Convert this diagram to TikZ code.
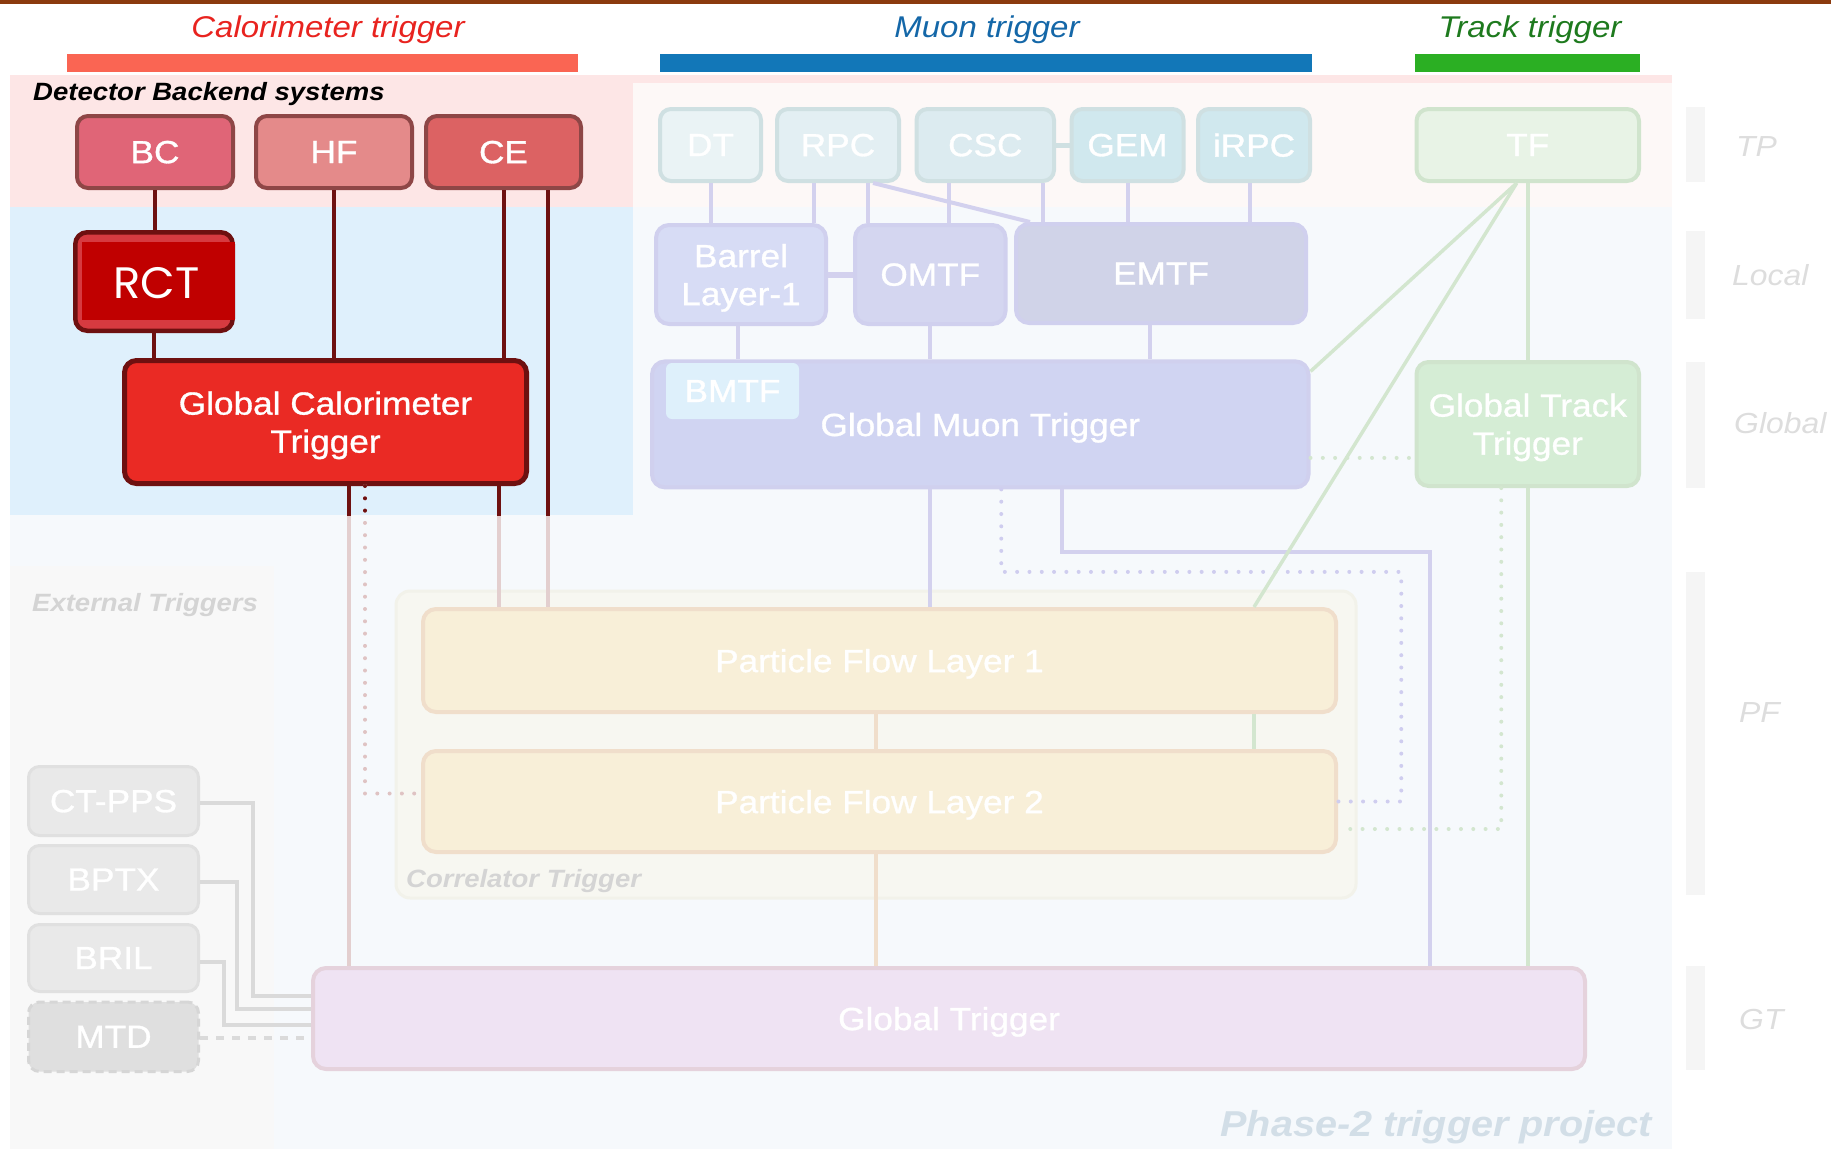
\documentclass[tikz,border=0pt]{standalone}
\usepackage{fontspec}
\setmainfont{Liberation Sans}[FakeStretch=1.1]
\newfontfamily\boxfont{Liberation Sans}[FakeStretch=1.1, FakeBold=1]
\newfontfamily\rctfont{Poppins}[FakeStretch=1.02]
\usetikzlibrary{calc}

% palette
\definecolor{topbrown}{HTML}{8B3A0E}
\definecolor{calotitle}{HTML}{E8231F}
\definecolor{calobar}{HTML}{FA6553}
\definecolor{muontitle}{HTML}{1467A8}
\definecolor{muonbar}{HTML}{1277B8}
\definecolor{tracktitle}{HTML}{1E7A1E}
\definecolor{trackbar}{HTML}{2BAF23}
\definecolor{bepink}{HTML}{FDE6E6}
\definecolor{bepinkfade}{HTML}{FDF8F7}
\definecolor{calblue}{HTML}{DFF0FC}
\definecolor{calbluefade}{HTML}{F6F9FC}
\definecolor{extpanel}{HTML}{F8F8F8}
\definecolor{bcfill}{HTML}{E06577}
\definecolor{hffill}{HTML}{E48A8A}
\definecolor{cefill}{HTML}{DC6263}
\definecolor{tpborder}{HTML}{8E4646}
\definecolor{caloline}{HTML}{6E1010}
\definecolor{calolinefade}{HTML}{E3CFCF}
\definecolor{calodotfade}{HTML}{DFC3C3}
\definecolor{rctouter}{HTML}{D63A40}
\definecolor{rctinner}{HTML}{C00000}
\definecolor{gctfill}{HTML}{EA2A24}
\definecolor{muline}{HTML}{D3D1EE}
\definecolor{mudot}{HTML}{CFCDEF}
\definecolor{dtfill}{HTML}{EAF3F5}
\definecolor{rpcfill}{HTML}{E3EFF3}
\definecolor{cscfill}{HTML}{DCEBF0}
\definecolor{gemfill}{HTML}{D0E8EE}
\definecolor{mutpborder}{HTML}{CFE0E2}
\definecolor{bloneFill}{HTML}{D7DCF5}
\definecolor{omtffill}{HTML}{D4D6F0}
\definecolor{emtffill}{HTML}{D0D3E8}
\definecolor{gmtfill}{HTML}{D0D4F2}
\definecolor{muborder}{HTML}{D0D0EE}
\definecolor{bmtffill}{HTML}{DEF0FB}
\definecolor{tffill}{HTML}{E8F3E6}
\definecolor{gttfill}{HTML}{D5EDD5}
\definecolor{trborder}{HTML}{D0E4CD}
\definecolor{trline}{HTML}{D3E6CF}
\definecolor{pffill}{HTML}{F8EFD8}
\definecolor{pfborder}{HTML}{F0DECB}
\definecolor{corrfill}{HTML}{F7F7F1}
\definecolor{corrborder}{HTML}{F2F2EA}
\definecolor{gtfill}{HTML}{EFE3F3}
\definecolor{gtborder}{HTML}{E5D2DC}
\definecolor{extboxfill}{HTML}{E9E9E9}
\definecolor{extborder}{HTML}{E0E0E0}
\definecolor{extline}{HTML}{DADADA}
\definecolor{mtdfill}{HTML}{DFDFDF}
\definecolor{mtdborder}{HTML}{D6D6D6}
\definecolor{lvlbar}{HTML}{F5F5F5}
\definecolor{lvltext}{HTML}{DDDDDD}
\definecolor{paneltext}{HTML}{D4D4D4}
\definecolor{phasetext}{HTML}{D2DEE7}

\tikzset{
  lbl/.style={inner sep=0pt, anchor=base},
  boxbase/.style={inner sep=0pt, align=center, text=white, text depth=0pt,
    font=\boxfont\fontsize{32}{38}\selectfont},
  calobox/.style={boxbase, draw=tpborder, line width=4pt, rounded corners=11pt},
  mutp/.style={boxbase, draw=mutpborder, line width=4pt, rounded corners=11pt},
  mubox/.style={boxbase, draw=muborder, line width=4pt, rounded corners=13pt},
  trbox/.style={boxbase, draw=trborder, line width=4pt, rounded corners=12pt},
  pfbox/.style={boxbase, fill=pffill, draw=pfborder, line width=4pt, rounded corners=13pt},
  extnode/.style={boxbase, fill=extboxfill, draw=extborder, line width=3pt, rounded corners=11pt},
  caloconn/.style={draw=caloline, line width=4pt},
  calofade/.style={draw=calolinefade, line width=4pt},
  dotline/.style={line width=4pt, line cap=round, dash pattern=on 0pt off 12.3pt},
  muconn/.style={draw=muline, line width=4pt},
  trconn/.style={draw=trline, line width=3.5pt},
  pfconn/.style={draw=pfborder, line width=4pt},
  extconn/.style={draw=extline, line width=4pt},
  lvl/.style={lbl, anchor=base west, text=lvltext, font=\fontsize{29}{34}\selectfont\itshape},
  panel/.style={lbl, anchor=base west, font=\fontsize{25}{30}\selectfont\bfseries\itshape},
  title/.style={lbl, font=\fontsize{30}{36}\selectfont\itshape},
}

\begin{document}
\begin{tikzpicture}[x=1pt,y=-1pt]
\useasboundingbox (0,0) rectangle (1831,1149);

% ---------- backgrounds ----------
\fill[topbrown] (0,0) rectangle (1831,3.5);
\fill[bepink] (10,75) rectangle (1672,83);
\fill[bepink] (10,83) rectangle (633,207);
\fill[bepinkfade] (633,83) rectangle (1672,207);
\fill[calblue] (10,207) rectangle (633,515);
\fill[calbluefade] (633,207) rectangle (1672,1149);
\fill[calbluefade] (10,515) rectangle (633,1149);
\fill[extpanel] (10,566) rectangle (274,1149);
\filldraw[fill=corrfill, draw=corrborder, line width=3pt, rounded corners=14pt]
  (396,591) rectangle (1356,898);

% level markers on the right
\foreach \ya/\yb in {107/182, 231/319, 362/488, 572/895, 966/1070}
  \fill[lvlbar] (1686,\ya) rectangle (1705,\yb);
\node[lvl] (lvtp) at (1736,156.5) {TP};
\node[lvl] (lvlocal) at (1732,285) {Local};
\node[lvl] (lvglobal) at (1734,433) {Global};
\node[lvl] (lvpf) at (1739,722.5) {PF};
\node[lvl] (lvgt) at (1739,1029) {GT};

% ---------- titles and bars ----------
\node[title, text=calotitle] (ttcalo) at (328,37) {Calorimeter trigger};
\node[title, text=muontitle] (ttmuon) at (987,37) {Muon trigger};
\node[title, text=tracktitle] (tttrack) at (1530,37) {Track trigger};
\fill[calobar] (67,54) rectangle (578,72);
\fill[muonbar] (660,54) rectangle (1312,72);
\fill[trackbar] (1415,54) rectangle (1640,72);

% ---------- panel labels ----------
\node[panel, text=black] (lbbe) at (33,100) {Detector Backend systems};
\node[panel, text=paneltext] (lbext) at (32,611.5) {External Triggers};
\node[panel, text=paneltext] (lbcorr) at (406,887) {Correlator Trigger};
\node[lbl, anchor=base east, text=phasetext, font=\fontsize{36}{42}\selectfont\bfseries\itshape]
  (lbphase) at (1652,1136) {Phase-2 trigger project};

% ---------- calorimeter chain ----------
\node[calobox, fill=bcfill, minimum width=156pt, minimum height=72pt] (bc) at (155,152) {BC};
\node[calobox, fill=hffill, minimum width=156pt, minimum height=72pt] (hf) at (334,152) {HF};
\node[calobox, fill=cefill, minimum width=155pt, minimum height=72pt] (ce) at (503.5,152) {CE};
\node[draw=caloline, fill=rctouter, line width=4.5pt, rounded corners=12pt, inner sep=0pt,
  minimum width=157.5pt, minimum height=98.5pt] (rct) at (154,281.5) {};
\fill[rctinner] (82,242) rectangle (235.2,320);
\node[inner sep=0pt, text=white, text depth=0pt, font=\rctfont\fontsize{44}{50}\selectfont]
  (rcttext) at (156.5,282.5) {RCT};
\node[boxbase, fill=gctfill, draw=caloline, line width=5pt, rounded corners=12pt,
  minimum width=402pt, minimum height=123pt] (gct) at (325.5,422) {Global Calorimeter\\Trigger};

% ---------- muon chain ----------
\node[mutp, fill=dtfill, minimum width=101pt, minimum height=72pt] (dt) at (710.5,145) {DT};
\node[mutp, fill=rpcfill, minimum width=122pt, minimum height=72pt] (rpc) at (838,145) {RPC};
\node[mutp, fill=cscfill, minimum width=137.5pt, minimum height=72pt] (csc) at (985.25,145) {CSC};
\node[mutp, fill=gemfill, minimum width=112pt, minimum height=72pt] (gem) at (1127.5,145) {GEM};
\node[mutp, fill=gemfill, minimum width=112pt, minimum height=72pt] (irpc) at (1254,145) {iRPC};
\node[mubox, fill=bloneFill, minimum width=170pt, minimum height=99pt] (bl1) at (741,274.5) {Barrel\\Layer-1};
\node[mubox, fill=omtffill, minimum width=150.5pt, minimum height=99pt] (omtf) at (930.25,274.5) {OMTF};
\node[mubox, fill=emtffill, minimum width=290pt, minimum height=99pt] (emtf) at (1161,273.5) {EMTF};
\node[mubox, fill=gmtfill, minimum width=656.5pt, minimum height=126pt] (gmt) at (980.25,424.4) {Global Muon Trigger};
\node[boxbase, fill=bmtffill, rounded corners=6pt, minimum width=133pt, minimum height=56pt]
  (bmtf) at (732.5,391) {BMTF};

% ---------- track chain ----------
\node[trbox, fill=tffill, minimum width=222.5pt, minimum height=72pt] (tf) at (1527.75,145) {TF};
\node[trbox, fill=gttfill, minimum width=222.5pt, minimum height=124pt] (gtt) at (1527.75,424) {Global Track\\Trigger};

% ---------- correlator and global trigger ----------
\node[pfbox, minimum width=913pt, minimum height=103pt] (pf1) at (879.5,660.5) {Particle Flow Layer 1};
\node[pfbox, minimum width=913pt, minimum height=101pt] (pf2) at (879.5,801.5) {Particle Flow Layer 2};
\node[boxbase, fill=gtfill, draw=gtborder, line width=4pt, rounded corners=13pt,
  minimum width=1272pt, minimum height=101pt] (gt) at (949,1018.5) {Global Trigger};

% ---------- external triggers ----------
\node[extnode, minimum width=170pt, minimum height=69pt] (ctpps) at (113.5,801) {CT-PPS};
\node[extnode, minimum width=170pt, minimum height=68pt] (bptx) at (113.5,879.5) {BPTX};
\node[extnode, minimum width=170pt, minimum height=67pt] (bril) at (113.5,958) {BRIL};
\node[boxbase, fill=mtdfill, draw=mtdborder, line width=3pt, dash pattern=on 8pt off 5pt,
  rounded corners=11pt, minimum width=170pt, minimum height=69.5pt] (mtd) at (113.5,1036.75) {MTD};

% ---------- connector attachment points ----------
\coordinate (ceB) at ([xshift=44.5pt]ce.south);
\coordinate (gctA) at ([xshift=23.5pt]gct.south);
\coordinate (gctB) at ([xshift=173.5pt]gct.south);
\coordinate (gctC) at ([xshift=39.5pt]gct.south);
\coordinate (rpcA) at ([xshift=-24pt]rpc.south);
\coordinate (rpcB) at ([xshift=30pt]rpc.south);
\coordinate (rpcC) at ([xshift=35pt]rpc.south);
\coordinate (cscA) at ([xshift=-36pt]csc.south);
\coordinate (cscB) at ([xshift=58pt]csc.south);
\coordinate (irpcA) at ([xshift=-4pt]irpc.south);
\coordinate (bl1A) at ([xshift=-3pt]bl1.south);
\coordinate (emtfA) at ([xshift=-11pt]emtf.south);
\coordinate (gmtA) at ([xshift=-50pt]gmt.south);
\coordinate (gmtB) at ([xshift=82pt]gmt.south);
\coordinate (gmtC) at ([xshift=21pt]gmt.south);
\coordinate (gtA) at ([xshift=481pt]gt.north);
\coordinate (tfA) at ([xshift=-11pt]tf.south);
\coordinate (pf1G) at ([xshift=374.5pt]pf1.north);
\coordinate (pf1Gs) at ([xshift=374.5pt]pf1.south);
\coordinate (pf1A) at ([xshift=-3.5pt]pf1.south);
\coordinate (pf2A) at ([xshift=-3.5pt]pf2.south);
\coordinate (gttB) at ([xshift=-26.5pt]gtt.south);

% ---------- calorimeter connectors ----------
\draw[caloconn] (bc.south) -- (bc.south |- rct.north);
\draw[caloconn] (rct.south) -- (rct.south |- gct.north);
\draw[caloconn] (hf.south) -- (hf.south |- gct.north);
\draw[caloconn] (ce.south) -- (ce.south |- gct.north);
% long links leaving the calorimeter area: faded everywhere, full colour inside it
\draw[calofade] (ceB) -- (ceB |- pf1.north);
\draw[calofade] (gctA) -- (gctA |- gt.north);
\draw[calofade] (gctB) -- (gctB |- pf1.north);
\draw[dotline, draw=calodotfade] (gctC) |- ([yshift=8pt]pf2.west);
\begin{scope}
  \clip (10,75) rectangle (633,515);
  \draw[caloconn] (ceB) -- (ceB |- pf1.north);
  \draw[caloconn] (gctA) -- (gctA |- gt.north);
  \draw[caloconn] (gctB) -- (gctB |- pf1.north);
  \draw[dotline, draw=caloline] (gctC) |- ([yshift=8pt]pf2.west);
\end{scope}

% ---------- muon connectors ----------
\draw[muconn] (dt.south) -- (dt.south |- bl1.north);
\draw[muconn] (rpcA) -- (rpcA |- bl1.north);
\draw[muconn] (rpcB) -- (rpcB |- omtf.north);
\draw[muconn] (cscA) -- (cscA |- omtf.north);
\draw[muconn] (cscB) -- (cscB |- emtf.north);
\draw[muconn] (gem.south) -- (gem.south |- emtf.north);
\draw[muconn] (irpcA) -- (irpcA |- emtf.north);
\draw[muconn] (rpcC) -- ([xshift=16pt]emtf.north west);
\draw[draw=mutpborder, line width=5pt] (csc.east) -- (gem.west);
\draw[muconn, line width=6pt] (bl1.east) -- (omtf.west);
\draw[muconn] (bl1A) -- (bl1A |- gmt.north);
\draw[muconn] (omtf.south) -- (omtf.south |- gmt.north);
\draw[muconn] (emtfA) -- (emtfA |- gmt.north);
\draw[muconn] (gmtA) -- (gmtA |- pf1.north);
\draw[muconn] (gmtB) -- ++(0,62.5) -| (gtA);
\draw[dotline, draw=mudot] (gmtC) -- ++(0,82.5) -- ++(400,0) |- (pf2.east);

% ---------- track connectors ----------
\draw[trconn] (tf.south) -- (tf.south |- gtt.north);
\draw[trconn] (tfA) -- ([yshift=-12pt]gmt.north east);
\draw[trconn] (tfA) -- (pf1G);
\draw[trconn] (pf1Gs) -- (pf1Gs |- pf2.north);
\draw[trconn] (gtt.south) -- (gtt.south |- gt.north);
\draw[dotline, draw=trline] ([yshift=-33.5pt]gmt.east) -- ([yshift=-33.5pt]gmt.east -| gtt.west);
\draw[dotline, draw=trline] (gttB) |- ([yshift=-27.5pt]pf2.east);

% ---------- correlator connectors ----------
\draw[pfconn] (pf1A) -- (pf1A |- pf2.north);
\draw[pfconn] (pf2A) -- (pf2A |- gt.north);

% ---------- external trigger connectors ----------
\draw[extconn] ([yshift=-2pt]ctpps.east) -- ++(53,0) |- ([yshift=22.5pt]gt.west);
\draw[extconn] ([yshift=-2.5pt]bptx.east) -- ++(37,0) |- ([yshift=9.5pt]gt.west);
\draw[extconn] ([yshift=-4pt]bril.east) -- ++(24,0) |- ([yshift=-6.5pt]gt.west);
\draw[extconn, dash pattern=on 8pt off 8pt] ([yshift=-1.5pt]mtd.east) -- ([yshift=-1.5pt]mtd.east -| gt.west);
\end{tikzpicture}
\end{document}
